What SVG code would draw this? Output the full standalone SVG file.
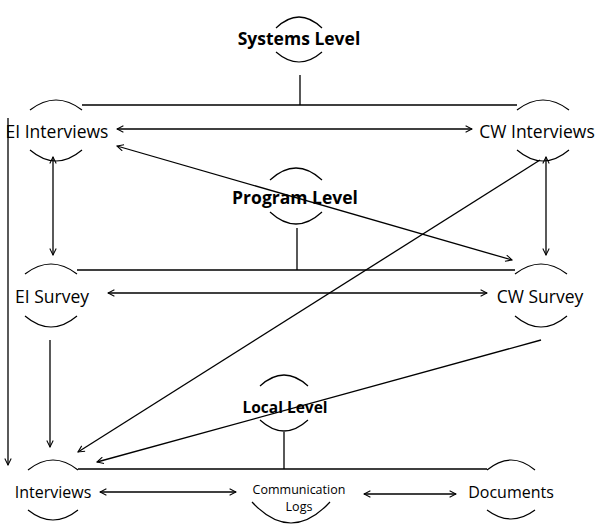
<svg xmlns="http://www.w3.org/2000/svg" width="609" height="526" viewBox="0 0 609 526">
<defs>
<marker id="a" viewBox="0 0 10 10" refX="9" refY="5" markerWidth="8" markerHeight="8" orient="auto-start-reverse" markerUnits="userSpaceOnUse"><path d="M1,1 L9,5 L1,9" fill="none" stroke="#000" stroke-width="1.3"/></marker>
</defs>
<style>
.arc{fill:none;stroke:#000;stroke-width:1.2}
.ln{fill:none;stroke:#000;stroke-width:1.3}
.t{font-family:"Open Sans","DejaVu Sans",sans-serif;font-size:17.5px;text-anchor:middle}
.b{font-family:"Open Sans","DejaVu Sans",sans-serif;font-size:17.5px;font-weight:bold;text-anchor:middle}
.s{font-family:"Open Sans","DejaVu Sans",sans-serif;font-size:12.5px;text-anchor:middle}
</style>
<rect width="609" height="526" fill="#fff"/>
<g id="systems"><path class="arc" d="M276,28 Q299,6 322,28"/><path class="arc" d="M276,52 Q299,72 322,52"/><text class="b" x="299" y="45">Systems Level</text></g>
<g id="program"><path class="arc" d="M270,180 Q296,156 322,180"/><path class="arc" d="M270,212 Q296,236 322,212"/><text class="b" x="295" y="204">Program Level</text></g>
<g id="local"><path class="arc" d="M260,386 Q284,364 308,386"/><path class="arc" d="M260,420 Q284,442 308,420"/><text class="b" x="285" y="413" style="font-size:15.5px">Local Level</text></g>
<g id="ei-interviews"><path class="arc" d="M30,110 Q56,90 82,110"/><path class="arc" d="M30,150 Q56,172 82,150"/><text class="t" x="57" y="138">EI Interviews</text></g>
<g id="cw-interviews"><path class="arc" d="M517,110 Q543,90 569,110"/><path class="arc" d="M517,150 Q543,172 569,150"/><text class="t" x="537" y="138">CW Interviews</text></g>
<g id="ei-survey"><path class="arc" d="M25,274 Q51,254 77,274"/><path class="arc" d="M25,316 Q51,338 77,316"/><text class="t" x="52" y="303">EI Survey</text></g>
<g id="cw-survey"><path class="arc" d="M515,274 Q541,254 567,274"/><path class="arc" d="M515,316 Q541,338 567,316"/><text class="t" x="540" y="303">CW Survey</text></g>
<g id="interviews"><path class="arc" d="M28,470 Q53,450 78,470"/><path class="arc" d="M28,510 Q53,530 78,510"/><text class="t" x="53" y="498" style="font-size:16px">Interviews</text></g>
<g id="comm-logs"><path class="arc" d="M252,502 Q291,544 330,502"/><text class="s" x="299" y="494">Communication</text><text class="s" x="299" y="511">Logs</text></g>
<g id="documents"><path class="arc" d="M487,470 Q511,450 535,470"/><path class="arc" d="M487,510 Q511,528 535,510"/><text class="t" x="511" y="498" style="font-size:16px">Documents</text></g>
<g id="connectors">
<path class="ln" d="M82,105 H517 M300,75 V105"/>
<path class="ln" d="M77,270 H515 M297,228 V270"/>
<path class="ln" d="M78,469 H487 M284,432 V469"/>
<path class="ln" d="M117,129 H472" marker-start="url(#a)" marker-end="url(#a)"/>
<path class="ln" d="M117,146 L512,260" marker-start="url(#a)" marker-end="url(#a)"/>
<path class="ln" d="M53,157 V255" marker-start="url(#a)" marker-end="url(#a)"/>
<path class="ln" d="M546,157 V255" marker-start="url(#a)" marker-end="url(#a)"/>
<path class="ln" d="M108,293 H487" marker-start="url(#a)" marker-end="url(#a)"/>
<path class="ln" d="M540,160 L78,452" marker-end="url(#a)"/>
<path class="ln" d="M8,118 V465" marker-end="url(#a)"/>
<path class="ln" d="M50,340 V447" marker-end="url(#a)"/>
<path class="ln" d="M541,340 L97,462" marker-end="url(#a)"/>
<path class="ln" d="M100,492 H236" marker-start="url(#a)" marker-end="url(#a)"/>
<path class="ln" d="M364,494 H456" marker-start="url(#a)" marker-end="url(#a)"/>
</g>
</svg>
